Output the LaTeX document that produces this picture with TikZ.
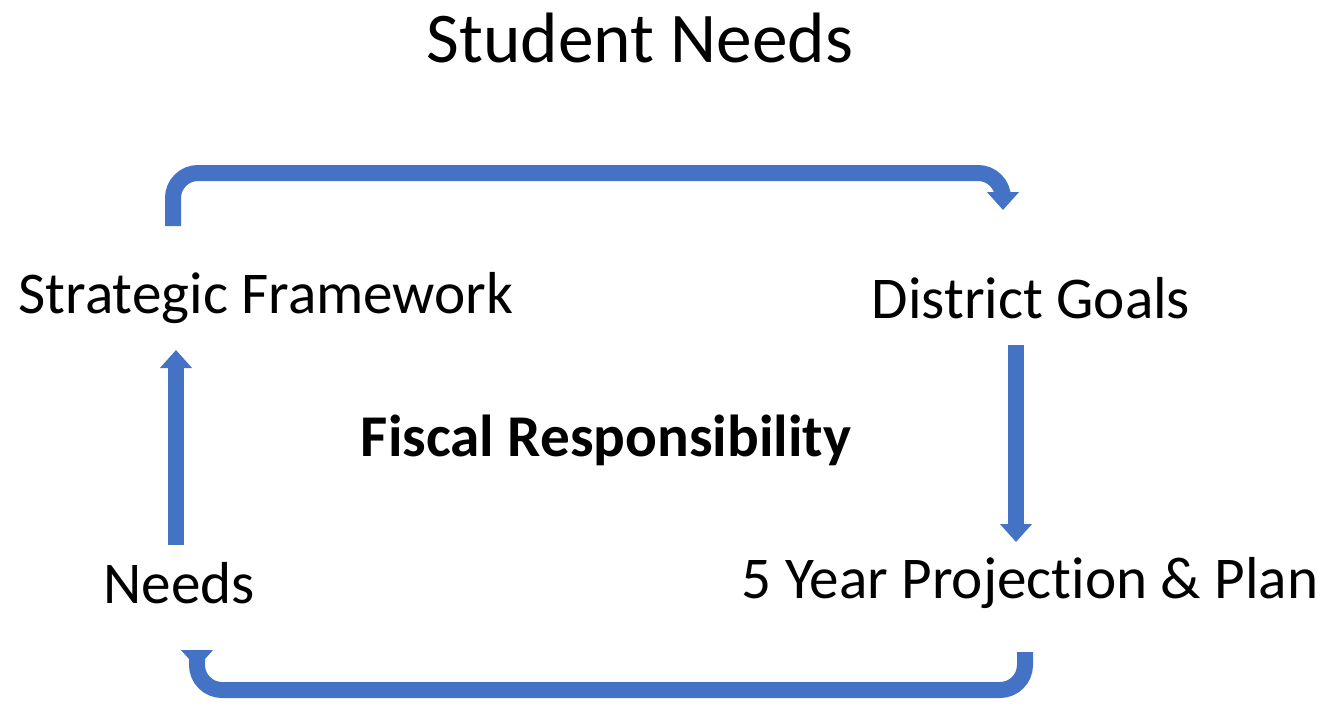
\documentclass[tikz,border=0pt]{standalone}
\usepackage{fontspec}
\setmainfont{Carlito}[Ligatures=NoCommon]
\usetikzlibrary{arrows.meta}
\definecolor{flowblue}{HTML}{4472C4}
\begin{document}
\begin{tikzpicture}[x=0.02cm, y=-0.02cm, nodes = {align = center, inner sep=0pt}]

  \tikzstyle{label}=[font=\fontsize{33.7}{40}\selectfont]
  \tikzstyle{flow}=[draw=flowblue, line width=0.32cm, rounded corners=0.5cm,
    -{Triangle[width=0.62cm, length=0.36cm]}]

  \useasboundingbox (0,0) rectangle (1326,708);

  % Title
  \node[font=\fontsize{40.6}{48}\selectfont] (title) at (640,38) {Student Needs};

  % Steps of the cycle
  \node[label] (sf) at (266,298) {Strategic Framework};
  \node[label] (dg) at (1031,298) {District Goals};
  \node[label] (yp) at (1030,583) {5 Year Projection \& Plan};
  \node[label] (nd) at (179,583) {Needs};
  \node[label, font=\fontsize{33.7}{40}\selectfont\bfseries] (fr) at (606,440) {Fiscal Responsibility};

  % Ends of the arrows
  \coordinate (sftop) at (173,226);
  \coordinate (dgtop) at (1003,210);
  \coordinate (dgbot) at (1016,345);
  \coordinate (yptop) at (1016,542);
  \coordinate (ypbot) at (1025,652);
  \coordinate (ndbot) at (197,668);
  \coordinate (ndtop) at (176,545);
  \coordinate (sfbot) at (176,350);

  % Arrows between steps
  \draw[flow] (sftop) -- (sftop |- 0,173) -- (dgtop |- 0,173) -- (dgtop);
  \draw[flow] (dgbot) -- (yptop);
  \draw[flow] (ypbot) -- (ypbot |- 0,690) -- (ndbot |- 0,690) -- (ndbot);
  \draw[flow] (ndtop) -- (sfbot);

\end{tikzpicture}
\end{document}
